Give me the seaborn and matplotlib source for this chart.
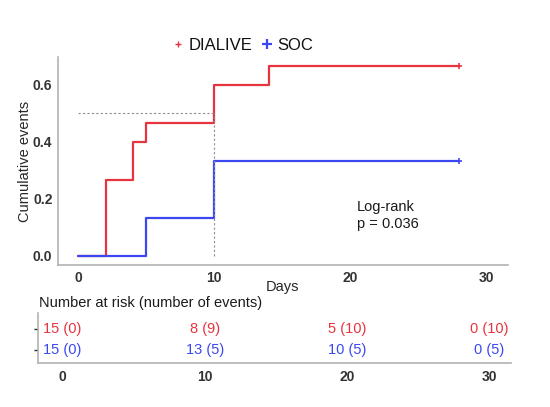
import matplotlib
matplotlib.use("Agg")
import matplotlib.pyplot as plt
import pandas as pd
import seaborn as sns
from matplotlib.lines import Line2D

# cumulative event curves (step values)
dialive_days = [0, 2, 4, 5, 10, 14, 28]
dialive_events = [0.0, 0.267, 0.4, 0.467, 0.6, 0.667, 0.667]
soc_days = [0, 5, 10, 28]
soc_events = [0.0, 0.133, 0.333, 0.333]

# number at risk table
risk_days = [0, 10, 20, 30]
dialive_risk = ["15 (0)", "8 (9)", "5 (10)", "0 (10)"]
soc_risk = ["15 (0)", "13 (5)", "10 (5)", "0 (5)"]

x_ticks = [0, 10, 20, 30]
y_ticks = [0.0, 0.2, 0.4, 0.6]

RED = "#e6343f"
BLUE = "#3b48f0"
GREY = "#b3b3b3"

sns.set_theme(style="white")
plt.rcParams["font.family"] = ["Liberation Sans", "DejaVu Sans"]

curves = pd.concat([
    pd.DataFrame({"day": dialive_days, "events": dialive_events, "arm": "DIALIVE"}),
    pd.DataFrame({"day": soc_days, "events": soc_events, "arm": "SOC"}),
])

fig = plt.figure(figsize=(5.5, 4.07), dpi=100)
ax = fig.add_axes([0.1055, 0.349, 0.818, 0.511])

for arm, color in [("DIALIVE", RED), ("SOC", BLUE)]:
    sub = curves[curves["arm"] == arm]
    sns.lineplot(data=sub, x="day", y="events", ax=ax, color=color,
                 drawstyle="steps-post", estimator=None, linewidth=1.6,
                 legend=False)
    # censoring mark at the end of follow-up
    last = sub.iloc[[-1]]
    ax.plot(last["day"], last["events"], linestyle="", marker="+", color=color,
            markersize=4.5, markeredgewidth=1.2)

# median reference lines
ax.plot([0, 10], [0.5, 0.5], color="#8c8c8c", linestyle=(0, (2, 2)), linewidth=0.8)
ax.plot([10, 10], [0.0, 0.5], color="#8c8c8c", linestyle=(0, (2, 2)), linewidth=0.8)

ax.set_xlim(-1.5, 31.6)
ax.set_ylim(-0.033, 0.698)
ax.set_xticks(x_ticks)
ax.set_yticks(y_ticks)
ax.set_yticklabels([f"{v:.1f}" for v in y_ticks])
ax.set_xlabel("Days", fontsize=10.5, labelpad=-3)
ax.set_ylabel("Cumulative events", fontsize=10.5, labelpad=1)
ax.tick_params(axis="both", labelsize=10, length=2, color=GREY, pad=2)
for lab in ax.get_xticklabels() + ax.get_yticklabels():
    lab.set_fontweight("bold")
    lab.set_color("#333333")
for side in ["top", "right"]:
    ax.spines[side].set_visible(False)
for side in ["left", "bottom"]:
    ax.spines[side].set_color(GREY)
    ax.spines[side].set_linewidth(1.2)

ax.text(20.5, 0.14, "Log-rank\np = 0.036", fontsize=10.5, va="center",
        ha="left", linespacing=1.3, color="#1a1a1a")

handles = [
    Line2D([], [], color=RED, marker="+", linestyle="", markersize=4, markeredgewidth=1),
    Line2D([], [], color=BLUE, marker="+", linestyle="", markersize=7, markeredgewidth=1.6),
]
leg = fig.legend(handles, ["DIALIVE", "SOC"], loc="center", ncol=2, frameon=False,
                 bbox_to_anchor=(243 / 550, 1 - 45 / 407), fontsize=12,
                 handlelength=0.6, handletextpad=0.3, columnspacing=0.6)
for t in leg.get_texts():
    t.set_color("#111111")

# risk table
tab = fig.add_axes([0.069, 0.108, 0.86, 0.123])
for row, labels, color in [(1, dialive_risk, RED), (0, soc_risk, BLUE)]:
    for day, label in zip(risk_days, labels):
        tab.text(day, row, label, color=color, fontsize=10.5, ha="center", va="center")
tab.set_xlim(-1.7, 31.5)
tab.set_ylim(-0.6, 1.75)
tab.set_xticks(x_ticks)
tab.set_yticks([1, 0])
tab.set_yticklabels([])
tab.tick_params(axis="x", labelsize=10, length=2, color=GREY, pad=3)
tab.tick_params(axis="y", left=True, length=3, width=1, pad=0)
tab.get_yticklines()[0].set_color(RED)
tab.get_yticklines()[1].set_color(BLUE)
for lab in tab.get_xticklabels():
    lab.set_fontweight("bold")
    lab.set_color("#333333")
for side in ["top", "right"]:
    tab.spines[side].set_visible(False)
for side in ["left", "bottom"]:
    tab.spines[side].set_color(GREY)
    tab.spines[side].set_linewidth(1.2)

fig.text(39 / 550, 1 - 303 / 407, "Number at risk (number of events)",
         fontsize=10.5, va="center", ha="left", color="#1a1a1a")

fig.savefig("out.png", dpi=100)
